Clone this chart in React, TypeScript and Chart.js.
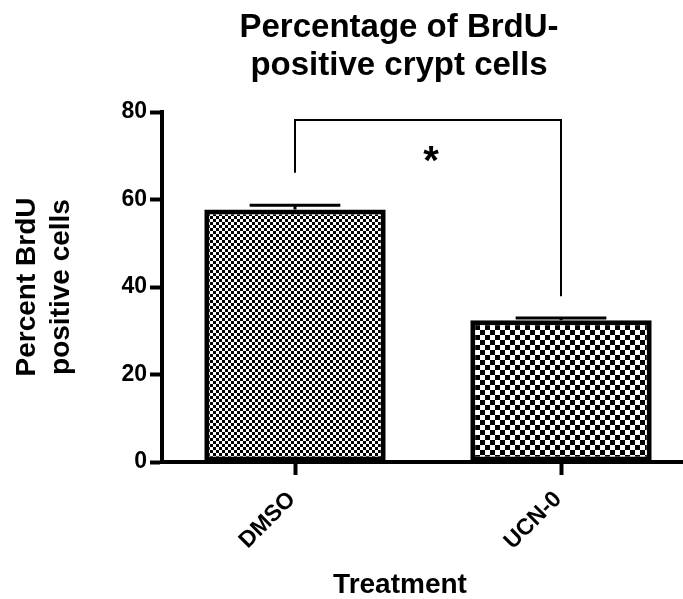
import React, { useEffect, useRef } from "react";
import { Chart, registerables } from "chart.js";

Chart.register(...registerables);

const categories = ["DMSO", "UCN-0"];
const meanValues = [57.7, 32.4];
const errorValues = [1.0, 0.5];
const yMin = 0;
const yMax = 80;
const yStep = 20;
const chartTitle = ["Percentage of BrdU-", "positive crypt cells"];
const yAxisTitle = ["Percent BrdU", "positive cells"];
const xAxisTitle = "Treatment";
const significanceLabel = "*";
const bracketTop = 78.2;
const bracketEnds = [66.1, 37.9];
const starLevel = 71.2;
const checkerSizes = [3, 5];

const FONT = "'Liberation Sans', Arial, Helvetica, sans-serif";

function makeChecker(size: number): CanvasPattern | string {
  const c = document.createElement("canvas");
  c.width = size * 2;
  c.height = size * 2;
  const g = c.getContext("2d");
  if (!g) return "#888";
  g.fillStyle = "#fff";
  g.fillRect(0, 0, size * 2, size * 2);
  g.fillStyle = "#000";
  g.fillRect(0, 0, size, size);
  g.fillRect(size, size, size, size);
  const p = g.createPattern(c, "repeat");
  return p || "#888";
}

const annotationPlugin = {
  id: "annotations",
  afterDatasetsDraw(chart: any) {
    const ctx = chart.ctx as CanvasRenderingContext2D;
    const y = chart.scales.y;
    const meta = chart.getDatasetMeta(0);
    ctx.save();
    ctx.strokeStyle = "#000";
    // error bars
    ctx.lineWidth = 3;
    meta.data.forEach((bar: any, i: number) => {
      const top = y.getPixelForValue(meanValues[i] + errorValues[i]);
      const half = bar.width / 4;
      ctx.beginPath();
      ctx.moveTo(bar.x, bar.y);
      ctx.lineTo(bar.x, top);
      ctx.moveTo(bar.x - half, top);
      ctx.lineTo(bar.x + half, top);
      ctx.stroke();
    });
    // significance bracket
    const x0 = meta.data[0].x;
    const x1 = meta.data[1].x;
    const yt = y.getPixelForValue(bracketTop);
    ctx.lineWidth = 2;
    ctx.beginPath();
    ctx.moveTo(x0, y.getPixelForValue(bracketEnds[0]));
    ctx.lineTo(x0, yt);
    ctx.lineTo(x1, yt);
    ctx.lineTo(x1, y.getPixelForValue(bracketEnds[1]));
    ctx.stroke();
    const starSize = 40;
    ctx.fillStyle = "#000";
    ctx.font = `bold ${starSize}px ${FONT}`;
    ctx.textAlign = "center";
    ctx.textBaseline = "alphabetic";
    ctx.fillText(
      significanceLabel,
      (x0 + x1) / 2 + 3,
      y.getPixelForValue(starLevel) + starSize * 0.58
    );
    ctx.restore();
  },
  afterDraw(chart: any) {
    const ctx = chart.ctx as CanvasRenderingContext2D;
    ctx.save();
    ctx.fillStyle = "#000";
    ctx.textAlign = "center";
    ctx.textBaseline = "alphabetic";
    ctx.font = `bold 33px ${FONT}`;
    ctx.fillText(chartTitle[0], 399, 37);
    ctx.fillText(chartTitle[1], 399, 75);
    ctx.font = `bold 28px ${FONT}`;
    ctx.fillText(xAxisTitle, 400, 593);
    ctx.restore();
  },
};

export default function App() {
  const ref = useRef<HTMLCanvasElement | null>(null);

  useEffect(() => {
    document.body.style.margin = "0";
    document.body.style.overflow = "hidden";
    const canvas = ref.current;
    if (!canvas) return;
    const patterns = checkerSizes.map((s) => makeChecker(s));
    const chart = new Chart(canvas, {
      type: "bar",
      data: {
        labels: categories,
        datasets: [
          {
            data: meanValues,
            backgroundColor: patterns as any,
            borderColor: "#000",
            borderWidth: 5,
            borderSkipped: false,
            categoryPercentage: 1,
            barPercentage: 0.682,
          },
        ],
      },
      plugins: [annotationPlugin],
      options: {
        animation: false,
        responsive: false,
        devicePixelRatio: 1,
        layout: { padding: { top: 112, left: 0, right: 0, bottom: 0 } },
        plugins: {
          legend: { display: false },
          tooltip: { enabled: false },
          title: { display: false },
        },
        scales: {
          x: {
            type: "category",
            offset: true,
            afterFit: (s: any) => {
              s.height = 137;
            },
            border: { display: true, color: "#000", width: 4 },
            grid: {
              offset: false,
              drawOnChartArea: false,
              drawTicks: true,
              tickLength: 13,
              tickWidth: 4,
              tickColor: "#000",
              color: "#000",
            },
            ticks: {
              color: "#000",
              font: { family: FONT, size: 23, weight: "bold" },
              minRotation: 45,
              maxRotation: 45,
              padding: 11,
              labelOffset: -3,
              autoSkip: false,
            },
          },
          y: {
            min: yMin,
            max: yMax,
            afterFit: (s: any) => {
              s.width = 162;
            },
            border: { display: true, color: "#000", width: 4 },
            grid: {
              drawOnChartArea: false,
              drawTicks: true,
              tickLength: 12,
              tickWidth: 4,
              tickColor: "#000",
              color: "#000",
            },
            ticks: {
              stepSize: yStep,
              color: "#000",
              font: { family: FONT, size: 23, weight: "bold" },
              padding: 3,
            },
            title: {
              display: true,
              text: yAxisTitle,
              color: "#000",
              font: { family: FONT, size: 28, weight: "bold", lineHeight: 1.22 },
              padding: { top: 10, bottom: 0 },
            },
          },
        },
      },
    });
    return () => chart.destroy();
  }, []);

  return (
    <div style={{ width: 683, height: 599, overflow: "hidden", position: "relative" }}>
      <canvas ref={ref} width={694} height={599} style={{ display: "block" }} />
    </div>
  );
}
